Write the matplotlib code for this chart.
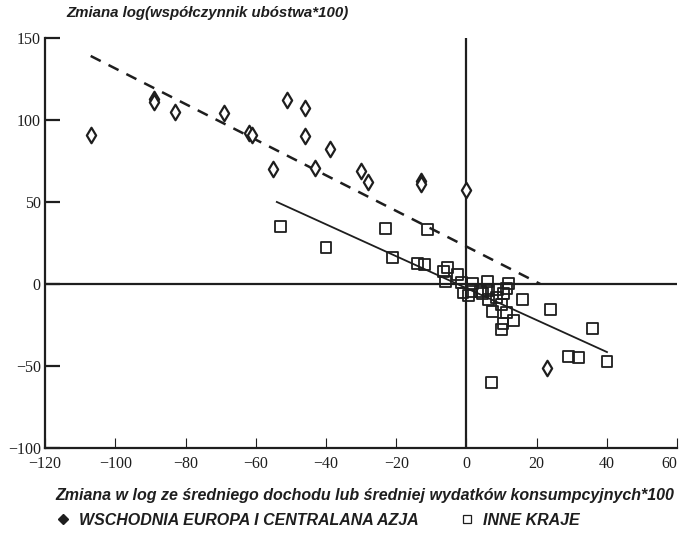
import numpy as np
import matplotlib
matplotlib.use("Agg")
import matplotlib.pyplot as plt
from matplotlib.lines import Line2D

# Europa Wschodnia i Azja Centralna (romby)
east_x = [-107, -89, -89, -83, -69, -62, -61, -55, -51, -46, -46, -43, -39,
          -30, -28, -13, -13, 0, 23]
east_y = [91, 113, 111, 105, 104, 92, 91, 70, 112, 107, 90, 71, 82,
          69, 62, 63, 61, 57, -51]

# inne kraje (kwadraty)
other_x = [-53, -40, -23, -11, -21, -14, -12, -5.5, -6.5, -2.5, -6, -1.5,
           -1, 1.6, 1.3, 4, 4.5, 6, 6.3, 6.3, 8.5, 8.7, 10.5, 12, 11.4, 10,
           7.5, 11.5, 13.4, 10.4, 10, 16, 24, 36, 29, 32, 40, 7, 0.5]
other_y = [35, 22.5, 34, 33, 16, 12.5, 12, 10, 7.5, 6, 1.5, 1,
           -5.5, 0.5, -4.5, -4.5, -5.7, 1.4, -4, -9.5, -8.5, -3.5, -5.7, 0.5, -3, -12.5,
           -16.5, -17.5, -22, -24, -28, -9.5, -15.5, -27, -44, -45, -47.5, -60, -7]

# linie trendu
east_fit_x = [-107, 21]
east_fit_y = [139, 0]
other_fit_x = [-54, 40]
other_fit_y = [50, -41.5]

x_ticks = [-120, -100, -80, -60, -40, -20, 0, 20, 40, 60]
y_ticks = [-100, -50, 0, 50, 100, 150]

title = "Zmiana log(współczynnik ubóstwa*100)"
xlabel = "Zmiana w log ze średniego dochodu lub średniej wydatków konsumpcyjnych*100"
legend_labels = ["WSCHODNIA EUROPA I CENTRALANA AZJA", "INNE KRAJE"]

ink = "#1e1e1e"

fig = plt.figure(figsize=(6.82, 5.34), dpi=100)
ax = fig.add_axes([0.066, 0.161, 0.927, 0.768])

ax.axhline(0, color=ink, lw=1.6, zorder=1)
ax.axvline(0, color=ink, lw=1.6, zorder=1)

ax.plot(east_fit_x, east_fit_y, color=ink, lw=1.8, ls=(0, (4.5, 3.5)), zorder=2)
ax.plot(other_fit_x, other_fit_y, color=ink, lw=1.3, zorder=2)

ax.scatter(other_x, other_y, marker="s", s=62, facecolors="none",
           edgecolors=ink, linewidths=1.3, zorder=3)
ax.scatter(east_x, east_y, marker="d", s=62, facecolors="white",
           edgecolors=ink, linewidths=1.6, zorder=4)

ax.set_xlim(-120, 60)
ax.set_ylim(-100, 150)
ax.set_xticks(x_ticks)
ax.set_yticks(y_ticks)
ax.set_xticklabels([str(v).replace("-", "\u2212") for v in x_ticks])
ax.set_yticklabels([str(v).replace("-", "\u2212") for v in y_ticks])

for side in ["top", "right"]:
    ax.spines[side].set_visible(False)
for side in ["left", "bottom"]:
    ax.spines[side].set_linewidth(1.6)
    ax.spines[side].set_color(ink)

ax.tick_params(axis="x", direction="in", length=7, width=0.8, color=ink,
               pad=6, labelsize=11.5)
ax.tick_params(axis="y", direction="in", length=11, width=1.6, color=ink,
               pad=3, labelsize=11.5)
for lab in ax.get_xticklabels() + ax.get_yticklabels():
    lab.set_family("Liberation Serif")
    lab.set_color(ink)
ax.get_xticklabels()[-1].set_ha("right")

fig.text(0.097, 0.975, title, fontsize=10.8, style="italic", weight="bold",
         family="Liberation Sans", color=ink, va="center", ha="left")
fig.text(0.081, 0.073, xlabel, fontsize=11.5, style="italic", weight="bold",
         family="Liberation Sans", color=ink, va="center", ha="left")

handles = [
    Line2D([], [], marker="D", ls="none", color=ink, markersize=5.5),
    Line2D([], [], marker="s", ls="none", markerfacecolor="none",
           markeredgecolor=ink, markersize=6, markeredgewidth=0.9),
]
fig.legend(handles, legend_labels, loc="center left",
           bbox_to_anchor=(0.062, 0.026), ncol=2, frameon=False,
           handlelength=0.8, handletextpad=0.6, columnspacing=2.65,
           prop={"family": "Liberation Sans", "style": "italic",
                 "weight": "bold", "size": 11.5})
for t in fig.legends[0].get_texts():
    t.set_color(ink)

fig.savefig("out.png", dpi=100)
